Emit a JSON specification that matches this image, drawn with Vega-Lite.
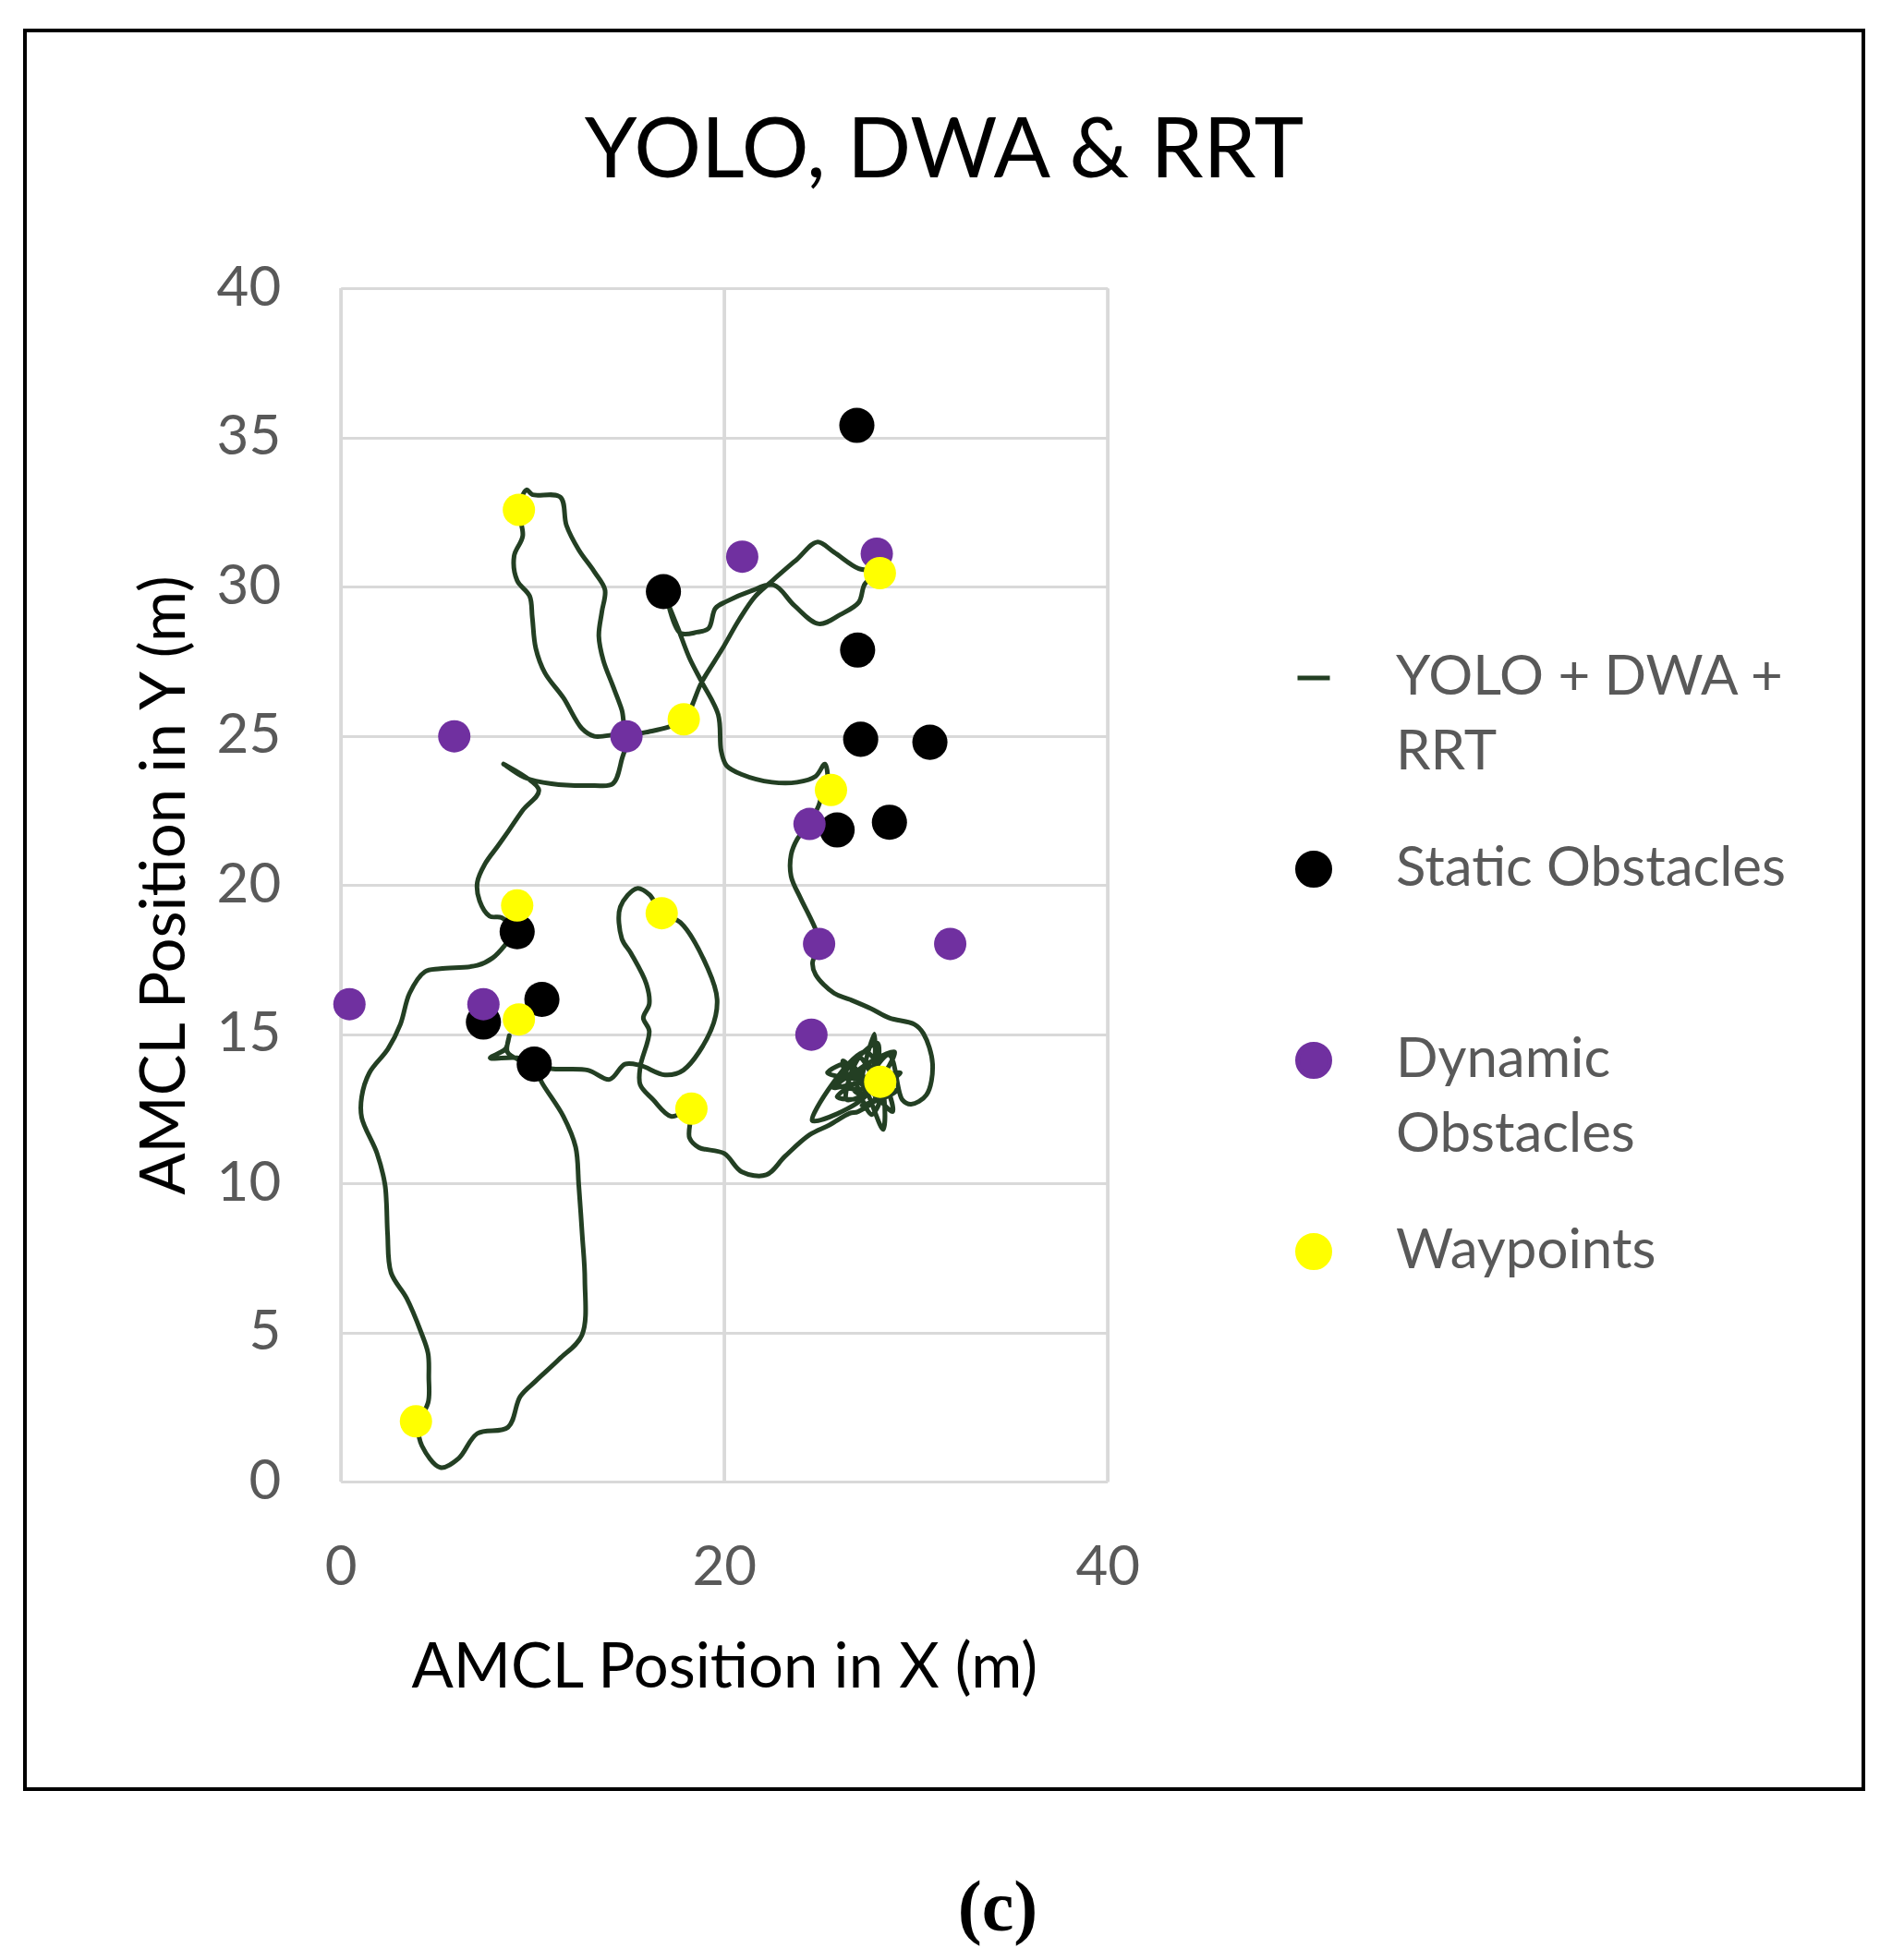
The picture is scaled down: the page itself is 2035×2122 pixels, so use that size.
{
  "$schema": "https://vega.github.io/schema/vega-lite/v6.json",
  "background": "white",
  "padding": {"left": 25, "top": 31, "right": 10, "bottom": 10},
  "title": {"text": "(c)", "orient": "bottom", "anchor": "middle", "frame": "group", "dx": 58, "offset": 89, "font": "Liberation Serif", "fontSize": 78, "fontWeight": "bold", "color": "#000000"},
  "datasets": {
    "path": [
      {"series":"YOLO + DWA + RRT","order":1,"x":4.0,"y":2.0},
      {"series":"YOLO + DWA + RRT","order":2,"x":4.56,"y":2.64},
      {"series":"YOLO + DWA + RRT","order":3,"x":4.6,"y":3.5},
      {"series":"YOLO + DWA + RRT","order":4,"x":4.56,"y":4.3},
      {"series":"YOLO + DWA + RRT","order":5,"x":4.2,"y":5.0},
      {"series":"YOLO + DWA + RRT","order":6,"x":3.44,"y":6.15},
      {"series":"YOLO + DWA + RRT","order":7,"x":2.63,"y":7.0},
      {"series":"YOLO + DWA + RRT","order":8,"x":2.45,"y":8.3},
      {"series":"YOLO + DWA + RRT","order":9,"x":2.39,"y":9.35},
      {"series":"YOLO + DWA + RRT","order":10,"x":2.31,"y":9.97},
      {"series":"YOLO + DWA + RRT","order":11,"x":1.9,"y":11.0},
      {"series":"YOLO + DWA + RRT","order":12,"x":1.1,"y":12.2},
      {"series":"YOLO + DWA + RRT","order":13,"x":1.1,"y":12.9},
      {"series":"YOLO + DWA + RRT","order":14,"x":1.5,"y":13.7},
      {"series":"YOLO + DWA + RRT","order":15,"x":2.47,"y":14.5},
      {"series":"YOLO + DWA + RRT","order":16,"x":3.12,"y":15.33},
      {"series":"YOLO + DWA + RRT","order":17,"x":3.6,"y":16.37},
      {"series":"YOLO + DWA + RRT","order":18,"x":4.4,"y":17.09},
      {"series":"YOLO + DWA + RRT","order":19,"x":5.2,"y":17.19},
      {"series":"YOLO + DWA + RRT","order":20,"x":7.13,"y":17.3},
      {"series":"YOLO + DWA + RRT","order":21,"x":7.93,"y":17.55},
      {"series":"YOLO + DWA + RRT","order":22,"x":8.6,"y":18.0},
      {"series":"YOLO + DWA + RRT","order":23,"x":9.1,"y":18.45},
      {"series":"YOLO + DWA + RRT","order":24,"x":8.4,"y":18.9},
      {"series":"YOLO + DWA + RRT","order":25,"x":7.77,"y":18.95},
      {"series":"YOLO + DWA + RRT","order":26,"x":7.25,"y":19.46},
      {"series":"YOLO + DWA + RRT","order":27,"x":7.13,"y":20.08},
      {"series":"YOLO + DWA + RRT","order":28,"x":7.53,"y":20.7},
      {"series":"YOLO + DWA + RRT","order":29,"x":8.2,"y":21.3},
      {"series":"YOLO + DWA + RRT","order":30,"x":8.75,"y":21.8},
      {"series":"YOLO + DWA + RRT","order":31,"x":9.5,"y":22.5},
      {"series":"YOLO + DWA + RRT","order":32,"x":10.34,"y":23.18},
      {"series":"YOLO + DWA + RRT","order":33,"x":8.5,"y":24.05},
      {"series":"YOLO + DWA + RRT","order":34,"x":9.6,"y":23.6},
      {"series":"YOLO + DWA + RRT","order":35,"x":11.0,"y":23.39},
      {"series":"YOLO + DWA + RRT","order":36,"x":13.2,"y":23.33},
      {"series":"YOLO + DWA + RRT","order":37,"x":14.2,"y":23.39},
      {"series":"YOLO + DWA + RRT","order":38,"x":14.67,"y":24.21},
      {"series":"YOLO + DWA + RRT","order":39,"x":14.9,"y":25.0},
      {"series":"YOLO + DWA + RRT","order":40,"x":13.23,"y":24.98},
      {"series":"YOLO + DWA + RRT","order":41,"x":12.59,"y":25.24},
      {"series":"YOLO + DWA + RRT","order":42,"x":11.62,"y":26.27},
      {"series":"YOLO + DWA + RRT","order":43,"x":10.66,"y":27.1},
      {"series":"YOLO + DWA + RRT","order":44,"x":10.18,"y":27.93},
      {"series":"YOLO + DWA + RRT","order":45,"x":10.0,"y":28.96},
      {"series":"YOLO + DWA + RRT","order":46,"x":9.86,"y":29.68},
      {"series":"YOLO + DWA + RRT","order":47,"x":9.21,"y":30.2},
      {"series":"YOLO + DWA + RRT","order":48,"x":9.05,"y":31.02},
      {"series":"YOLO + DWA + RRT","order":49,"x":9.5,"y":31.7},
      {"series":"YOLO + DWA + RRT","order":50,"x":9.3,"y":32.6},
      {"series":"YOLO + DWA + RRT","order":51,"x":9.7,"y":33.24},
      {"series":"YOLO + DWA + RRT","order":52,"x":10.0,"y":33.08},
      {"series":"YOLO + DWA + RRT","order":53,"x":11.46,"y":33.0},
      {"series":"YOLO + DWA + RRT","order":54,"x":11.78,"y":32.05},
      {"series":"YOLO + DWA + RRT","order":55,"x":12.42,"y":31.23},
      {"series":"YOLO + DWA + RRT","order":56,"x":13.23,"y":30.5},
      {"series":"YOLO + DWA + RRT","order":57,"x":13.79,"y":29.89},
      {"series":"YOLO + DWA + RRT","order":58,"x":13.63,"y":29.16},
      {"series":"YOLO + DWA + RRT","order":59,"x":13.47,"y":28.34},
      {"series":"YOLO + DWA + RRT","order":60,"x":13.71,"y":27.51},
      {"series":"YOLO + DWA + RRT","order":61,"x":14.19,"y":26.69},
      {"series":"YOLO + DWA + RRT","order":62,"x":14.67,"y":25.86},
      {"series":"YOLO + DWA + RRT","order":63,"x":14.95,"y":25.1},
      {"series":"YOLO + DWA + RRT","order":64,"x":16.11,"y":25.14},
      {"series":"YOLO + DWA + RRT","order":65,"x":17.88,"y":25.55},
      {"series":"YOLO + DWA + RRT","order":66,"x":18.84,"y":26.8},
      {"series":"YOLO + DWA + RRT","order":67,"x":19.9,"y":27.9},
      {"series":"YOLO + DWA + RRT","order":68,"x":20.8,"y":28.9},
      {"series":"YOLO + DWA + RRT","order":69,"x":21.6,"y":29.65},
      {"series":"YOLO + DWA + RRT","order":70,"x":22.53,"y":30.2},
      {"series":"YOLO + DWA + RRT","order":71,"x":23.82,"y":30.92},
      {"series":"YOLO + DWA + RRT","order":72,"x":24.86,"y":31.49},
      {"series":"YOLO + DWA + RRT","order":73,"x":25.74,"y":31.15},
      {"series":"YOLO + DWA + RRT","order":74,"x":27.03,"y":30.6},
      {"series":"YOLO + DWA + RRT","order":75,"x":28.1,"y":30.5},
      {"series":"YOLO + DWA + RRT","order":76,"x":27.35,"y":30.09},
      {"series":"YOLO + DWA + RRT","order":77,"x":27.03,"y":29.47},
      {"series":"YOLO + DWA + RRT","order":78,"x":26.07,"y":29.06},
      {"series":"YOLO + DWA + RRT","order":79,"x":24.94,"y":28.75},
      {"series":"YOLO + DWA + RRT","order":80,"x":23.66,"y":29.37},
      {"series":"YOLO + DWA + RRT","order":81,"x":22.6,"y":30.05},
      {"series":"YOLO + DWA + RRT","order":82,"x":21.4,"y":29.85},
      {"series":"YOLO + DWA + RRT","order":83,"x":20.13,"y":29.5},
      {"series":"YOLO + DWA + RRT","order":84,"x":19.55,"y":29.27},
      {"series":"YOLO + DWA + RRT","order":85,"x":19.2,"y":28.6},
      {"series":"YOLO + DWA + RRT","order":86,"x":18.6,"y":28.47},
      {"series":"YOLO + DWA + RRT","order":87,"x":17.72,"y":28.44},
      {"series":"YOLO + DWA + RRT","order":88,"x":17.1,"y":29.4},
      {"series":"YOLO + DWA + RRT","order":89,"x":17.6,"y":28.6},
      {"series":"YOLO + DWA + RRT","order":90,"x":18.2,"y":27.6},
      {"series":"YOLO + DWA + RRT","order":91,"x":18.84,"y":26.8},
      {"series":"YOLO + DWA + RRT","order":92,"x":19.7,"y":25.7},
      {"series":"YOLO + DWA + RRT","order":93,"x":19.85,"y":24.5},
      {"series":"YOLO + DWA + RRT","order":94,"x":20.13,"y":24.0},
      {"series":"YOLO + DWA + RRT","order":95,"x":20.93,"y":23.7},
      {"series":"YOLO + DWA + RRT","order":96,"x":22.5,"y":23.44},
      {"series":"YOLO + DWA + RRT","order":97,"x":23.82,"y":23.44},
      {"series":"YOLO + DWA + RRT","order":98,"x":24.78,"y":23.64},
      {"series":"YOLO + DWA + RRT","order":99,"x":25.26,"y":24.05},
      {"series":"YOLO + DWA + RRT","order":100,"x":25.4,"y":23.5},
      {"series":"YOLO + DWA + RRT","order":101,"x":25.1,"y":23.0},
      {"series":"YOLO + DWA + RRT","order":102,"x":24.94,"y":22.66},
      {"series":"YOLO + DWA + RRT","order":103,"x":24.5,"y":22.1},
      {"series":"YOLO + DWA + RRT","order":104,"x":23.82,"y":21.53},
      {"series":"YOLO + DWA + RRT","order":105,"x":23.5,"y":21.01},
      {"series":"YOLO + DWA + RRT","order":106,"x":23.5,"y":20.29},
      {"series":"YOLO + DWA + RRT","order":107,"x":23.98,"y":19.57},
      {"series":"YOLO + DWA + RRT","order":108,"x":24.46,"y":18.95},
      {"series":"YOLO + DWA + RRT","order":109,"x":24.78,"y":18.5},
      {"series":"YOLO + DWA + RRT","order":110,"x":25.0,"y":18.0},
      {"series":"YOLO + DWA + RRT","order":111,"x":24.62,"y":17.4},
      {"series":"YOLO + DWA + RRT","order":112,"x":24.78,"y":16.99},
      {"series":"YOLO + DWA + RRT","order":113,"x":25.74,"y":16.37},
      {"series":"YOLO + DWA + RRT","order":114,"x":26.55,"y":16.16},
      {"series":"YOLO + DWA + RRT","order":115,"x":27.67,"y":15.85},
      {"series":"YOLO + DWA + RRT","order":116,"x":28.63,"y":15.54},
      {"series":"YOLO + DWA + RRT","order":117,"x":29.92,"y":15.33},
      {"series":"YOLO + DWA + RRT","order":118,"x":30.4,"y":15.02},
      {"series":"YOLO + DWA + RRT","order":119,"x":30.88,"y":14.0},
      {"series":"YOLO + DWA + RRT","order":120,"x":30.56,"y":12.96},
      {"series":"YOLO + DWA + RRT","order":121,"x":29.76,"y":12.65},
      {"series":"YOLO + DWA + RRT","order":122,"x":29.3,"y":12.8},
      {"series":"YOLO + DWA + RRT","order":123,"x":28.6,"y":14.3},
      {"series":"YOLO + DWA + RRT","order":124,"x":27.2,"y":13.3},
      {"series":"YOLO + DWA + RRT","order":125,"x":27.83,"y":15.0},
      {"series":"YOLO + DWA + RRT","order":126,"x":27.6,"y":13.6},
      {"series":"YOLO + DWA + RRT","order":127,"x":25.4,"y":13.7},
      {"series":"YOLO + DWA + RRT","order":128,"x":26.6,"y":14.0},
      {"series":"YOLO + DWA + RRT","order":129,"x":28.3,"y":11.8},
      {"series":"YOLO + DWA + RRT","order":130,"x":27.9,"y":13.9},
      {"series":"YOLO + DWA + RRT","order":131,"x":25.7,"y":13.2},
      {"series":"YOLO + DWA + RRT","order":132,"x":29.2,"y":13.7},
      {"series":"YOLO + DWA + RRT","order":133,"x":27.0,"y":13.0},
      {"series":"YOLO + DWA + RRT","order":134,"x":26.2,"y":14.1},
      {"series":"YOLO + DWA + RRT","order":135,"x":28.8,"y":12.4},
      {"series":"YOLO + DWA + RRT","order":136,"x":27.4,"y":14.4},
      {"series":"YOLO + DWA + RRT","order":137,"x":24.6,"y":12.1},
      {"series":"YOLO + DWA + RRT","order":138,"x":27.5,"y":13.0},
      {"series":"YOLO + DWA + RRT","order":139,"x":28.0,"y":14.7},
      {"series":"YOLO + DWA + RRT","order":140,"x":26.0,"y":13.3},
      {"series":"YOLO + DWA + RRT","order":141,"x":29.0,"y":13.1},
      {"series":"YOLO + DWA + RRT","order":142,"x":27.2,"y":12.6},
      {"series":"YOLO + DWA + RRT","order":142.1,"x":28.4,"y":13.0},
      {"series":"YOLO + DWA + RRT","order":142.2,"x":26.8,"y":13.6},
      {"series":"YOLO + DWA + RRT","order":142.3,"x":28.9,"y":14.4},
      {"series":"YOLO + DWA + RRT","order":142.4,"x":27.3,"y":12.9},
      {"series":"YOLO + DWA + RRT","order":142.5,"x":25.9,"y":12.9},
      {"series":"YOLO + DWA + RRT","order":142.6,"x":28.5,"y":13.8},
      {"series":"YOLO + DWA + RRT","order":142.7,"x":27.7,"y":12.3},
      {"series":"YOLO + DWA + RRT","order":142.71,"x":26.7,"y":13.9},
      {"series":"YOLO + DWA + RRT","order":142.72,"x":28.2,"y":12.7},
      {"series":"YOLO + DWA + RRT","order":142.73,"x":27.1,"y":14.2},
      {"series":"YOLO + DWA + RRT","order":142.74,"x":26.4,"y":12.8},
      {"series":"YOLO + DWA + RRT","order":142.75,"x":28.7,"y":13.5},
      {"series":"YOLO + DWA + RRT","order":142.76,"x":27.4,"y":13.4},
      {"series":"YOLO + DWA + RRT","order":142.77,"x":26.3,"y":13.7},
      {"series":"YOLO + DWA + RRT","order":142.78,"x":27.9,"y":12.9},
      {"series":"YOLO + DWA + RRT","order":142.79,"x":27.0,"y":12.4},
      {"series":"YOLO + DWA + RRT","order":143,"x":26.55,"y":12.34},
      {"series":"YOLO + DWA + RRT","order":144,"x":25.5,"y":11.95},
      {"series":"YOLO + DWA + RRT","order":145,"x":24.46,"y":11.62},
      {"series":"YOLO + DWA + RRT","order":146,"x":23.18,"y":10.9},
      {"series":"YOLO + DWA + RRT","order":147,"x":22.21,"y":10.28},
      {"series":"YOLO + DWA + RRT","order":148,"x":20.93,"y":10.38},
      {"series":"YOLO + DWA + RRT","order":149,"x":20.0,"y":11.0},
      {"series":"YOLO + DWA + RRT","order":150,"x":18.68,"y":11.2},
      {"series":"YOLO + DWA + RRT","order":151,"x":18.2,"y":11.52},
      {"series":"YOLO + DWA + RRT","order":152,"x":18.2,"y":12.4},
      {"series":"YOLO + DWA + RRT","order":153,"x":17.24,"y":12.24},
      {"series":"YOLO + DWA + RRT","order":154,"x":16.3,"y":12.8},
      {"series":"YOLO + DWA + RRT","order":155,"x":15.63,"y":13.3},
      {"series":"YOLO + DWA + RRT","order":156,"x":15.63,"y":13.9},
      {"series":"YOLO + DWA + RRT","order":157,"x":16.1,"y":15.1},
      {"series":"YOLO + DWA + RRT","order":158,"x":15.79,"y":15.54},
      {"series":"YOLO + DWA + RRT","order":159,"x":16.1,"y":16.0},
      {"series":"YOLO + DWA + RRT","order":160,"x":15.95,"y":16.68},
      {"series":"YOLO + DWA + RRT","order":161,"x":15.15,"y":17.7},
      {"series":"YOLO + DWA + RRT","order":162,"x":14.67,"y":18.2},
      {"series":"YOLO + DWA + RRT","order":163,"x":14.59,"y":19.26},
      {"series":"YOLO + DWA + RRT","order":164,"x":15.47,"y":19.88},
      {"series":"YOLO + DWA + RRT","order":165,"x":16.11,"y":19.67},
      {"series":"YOLO + DWA + RRT","order":166,"x":16.75,"y":19.05},
      {"series":"YOLO + DWA + RRT","order":167,"x":17.72,"y":18.74},
      {"series":"YOLO + DWA + RRT","order":168,"x":19.16,"y":17.19},
      {"series":"YOLO + DWA + RRT","order":169,"x":19.64,"y":16.16},
      {"series":"YOLO + DWA + RRT","order":170,"x":19.32,"y":15.13},
      {"series":"YOLO + DWA + RRT","order":171,"x":17.88,"y":13.79},
      {"series":"YOLO + DWA + RRT","order":172,"x":16.92,"y":13.63},
      {"series":"YOLO + DWA + RRT","order":173,"x":15.63,"y":13.95},
      {"series":"YOLO + DWA + RRT","order":174,"x":14.83,"y":13.99},
      {"series":"YOLO + DWA + RRT","order":175,"x":14.03,"y":13.48},
      {"series":"YOLO + DWA + RRT","order":176,"x":12.9,"y":13.79},
      {"series":"YOLO + DWA + RRT","order":177,"x":10.98,"y":13.84},
      {"series":"YOLO + DWA + RRT","order":178,"x":10.1,"y":14.0},
      {"series":"YOLO + DWA + RRT","order":179,"x":9.2,"y":14.2},
      {"series":"YOLO + DWA + RRT","order":180,"x":7.8,"y":14.2},
      {"series":"YOLO + DWA + RRT","order":181,"x":8.6,"y":14.5},
      {"series":"YOLO + DWA + RRT","order":182,"x":8.8,"y":14.95},
      {"series":"YOLO + DWA + RRT","order":183,"x":8.7,"y":14.4},
      {"series":"YOLO + DWA + RRT","order":184,"x":9.4,"y":14.1},
      {"series":"YOLO + DWA + RRT","order":185,"x":10.1,"y":13.9},
      {"series":"YOLO + DWA + RRT","order":186,"x":10.5,"y":13.37},
      {"series":"YOLO + DWA + RRT","order":187,"x":11.62,"y":12.24},
      {"series":"YOLO + DWA + RRT","order":188,"x":12.26,"y":11.21},
      {"series":"YOLO + DWA + RRT","order":189,"x":12.42,"y":9.97},
      {"series":"YOLO + DWA + RRT","order":190,"x":12.6,"y":8.3},
      {"series":"YOLO + DWA + RRT","order":191,"x":12.74,"y":6.77},
      {"series":"YOLO + DWA + RRT","order":192,"x":12.59,"y":4.91},
      {"series":"YOLO + DWA + RRT","order":193,"x":11.4,"y":4.1},
      {"series":"YOLO + DWA + RRT","order":194,"x":10.18,"y":3.37},
      {"series":"YOLO + DWA + RRT","order":195,"x":9.37,"y":2.85},
      {"series":"YOLO + DWA + RRT","order":196,"x":8.73,"y":1.82},
      {"series":"YOLO + DWA + RRT","order":197,"x":7.13,"y":1.61},
      {"series":"YOLO + DWA + RRT","order":198,"x":6.16,"y":0.78},
      {"series":"YOLO + DWA + RRT","order":199,"x":5.2,"y":0.47},
      {"series":"YOLO + DWA + RRT","order":200,"x":4.24,"y":1.2},
      {"series":"YOLO + DWA + RRT","order":201,"x":4.0,"y":1.9}
    ],
    "markers": [
      {"series":"Static Obstacles","x":26.93,"y":35.4},
      {"series":"Static Obstacles","x":16.84,"y":29.83},
      {"series":"Static Obstacles","x":26.97,"y":27.87},
      {"series":"Static Obstacles","x":27.13,"y":24.88},
      {"series":"Static Obstacles","x":30.74,"y":24.78},
      {"series":"Static Obstacles","x":25.9,"y":21.84},
      {"series":"Static Obstacles","x":28.63,"y":22.1},
      {"series":"Static Obstacles","x":9.21,"y":18.43},
      {"series":"Static Obstacles","x":7.45,"y":15.4},
      {"series":"Static Obstacles","x":10.5,"y":16.16},
      {"series":"Static Obstacles","x":10.1,"y":13.99},
      {"series":"Dynamic Obstacles","x":0.46,"y":16.0},
      {"series":"Dynamic Obstacles","x":5.93,"y":24.98},
      {"series":"Dynamic Obstacles","x":14.91,"y":24.98},
      {"series":"Dynamic Obstacles","x":20.95,"y":31.0},
      {"series":"Dynamic Obstacles","x":27.97,"y":31.1},
      {"series":"Dynamic Obstacles","x":24.46,"y":22.04},
      {"series":"Dynamic Obstacles","x":24.96,"y":18.02},
      {"series":"Dynamic Obstacles","x":31.8,"y":18.02},
      {"series":"Dynamic Obstacles","x":24.56,"y":14.98},
      {"series":"Dynamic Obstacles","x":7.45,"y":16.0},
      {"series":"Waypoints","x":9.3,"y":32.57},
      {"series":"Waypoints","x":28.13,"y":30.45},
      {"series":"Waypoints","x":17.9,"y":25.55},
      {"series":"Waypoints","x":25.58,"y":23.18},
      {"series":"Waypoints","x":9.21,"y":19.31},
      {"series":"Waypoints","x":16.75,"y":19.05},
      {"series":"Waypoints","x":9.3,"y":15.49},
      {"series":"Waypoints","x":18.3,"y":12.5},
      {"series":"Waypoints","x":28.15,"y":13.4},
      {"series":"Waypoints","x":3.93,"y":2.02}
    ],
    "xgrid": [{"x": 0}, {"x": 20}, {"x": 40}]
  },
  "vconcat": [
    {
      "width": 1990,
      "height": 1904,
      "title": {"text": "YOLO, DWA & RRT", "anchor": "middle", "frame": "group", "offset": -178, "font": "Lato", "fontSize": 91, "fontWeight": "normal", "color": "#000000"},
      "resolve": {"axis": {"x": "independent"}},
      "layer": [
        {
          "data": {"name": "xgrid"},
          "mark": {"type": "rule", "strokeWidth": 3, "color": "#d9d9d9"},
          "encoding": {
            "x": {
              "field": "x", "type": "quantitative",
              "scale": {"domain": [0, 40], "range": [341.7, 1171.7], "nice": false, "zero": false},
              "axis": {"values": [0, 20, 40], "orient": "top", "title": null, "grid": true, "gridColor": "#d9d9d9", "gridWidth": 3, "labels": false, "domain": false, "ticks": false, "tickSize": 0}
            },
            "y": {"datum": 0, "type": "quantitative"},
            "y2": {"datum": 40}
          }
        },
        {
          "encoding": {
            "x": {
              "field": "x", "type": "quantitative",
              "scale": {"domain": [0, 40], "range": [341.7, 1171.7], "nice": false, "zero": false},
              "axis": {"values": [0, 20, 40], "title": "AMCL Position in X (m)", "orient": "bottom", "offset": -333, "grid": false, "domain": false, "ticks": false, "tickSize": 0, "labelPadding": 64, "labelFlush": false, "labelFont": "Lato", "labelFontSize": 60, "labelColor": "#595959", "titleFont": "Lato", "titleFontSize": 67, "titleFontWeight": "normal", "titleColor": "#000000", "titlePadding": 46}
            },
            "y": {
              "field": "y", "type": "quantitative",
              "scale": {"domain": [0, 40], "range": [1571, 279], "nice": false, "zero": false},
              "axis": {"values": [0, 5, 10, 15, 20, 25, 30, 35, 40], "title": "AMCL Position in Y (m)", "orient": "left", "offset": -341.7, "grid": true, "gridColor": "#d9d9d9", "gridWidth": 3, "domain": false, "ticks": false, "tickSize": 0, "labelPadding": 65, "labelFont": "Lato", "labelFontSize": 60, "labelColor": "#595959", "titleFont": "Lato", "titleFontSize": 67, "titleFontWeight": "normal", "titleColor": "#000000", "titlePadding": 21}
            },
            "color": {
              "field": "series", "type": "nominal",
              "scale": {"domain": ["YOLO + DWA + RRT", "Static Obstacles", "Dynamic Obstacles", "Waypoints"], "range": ["#233f23", "#000000", "#7030a0", "#ffff00"]},
              "legend": {"title": null, "orient": "none", "legendX": 1365, "legendY": 671, "padding": 0, "rowPadding": 66, "labelFont": "Lato", "labelFontSize": 60, "labelColor": "#595959", "labelLimit": 0, "labelOffset": 59, "symbolSize": 1225, "symbolStrokeWidth": 5, "symbolOpacity": 1,
                "labelExpr": "datum.label == 'YOLO + DWA + RRT' ? ['YOLO + DWA +', 'RRT'] : datum.label == 'Dynamic Obstacles' ? ['Dynamic', 'Obstacles'] : [datum.label, '']"}
            }
          },
          "layer": [
            {
              "data": {"name": "path"},
              "mark": {"type": "line", "strokeWidth": 5, "strokeJoin": "round", "interpolate": "catmull-rom"},
              "encoding": {"order": {"field": "order", "type": "quantitative"}}
            },
            {
              "data": {"name": "markers"},
              "transform": [{"filter": "datum.series == 'Static Obstacles'"}],
              "mark": {"type": "point", "filled": true, "size": 1450, "opacity": 1, "strokeWidth": 0},
              "encoding": {"shape": {"field": "series", "type": "nominal", "scale": {"domain": ["YOLO + DWA + RRT", "Static Obstacles", "Dynamic Obstacles", "Waypoints"], "range": ["stroke", "circle", "circle", "circle"]}}}
            },
            {
              "data": {"name": "markers"},
              "transform": [{"filter": "datum.series == 'Dynamic Obstacles'"}],
              "mark": {"type": "point", "filled": true, "size": 1225, "opacity": 1, "strokeWidth": 0},
              "encoding": {"shape": {"field": "series", "type": "nominal"}}
            },
            {
              "data": {"name": "markers"},
              "transform": [{"filter": "datum.series == 'Waypoints'"}],
              "mark": {"type": "point", "filled": true, "size": 1225, "opacity": 1, "strokeWidth": 0},
              "encoding": {"shape": {"field": "series", "type": "nominal"}}
            }
          ]
        }
      ]
    }
  ],
  "config": {
    "view": {"stroke": "#000000", "strokeWidth": 4},
    "font": "Lato",
    "style": {"guide-label": {"lineHeight": 81}},
    "concat": {"spacing": 0}
  }
}
